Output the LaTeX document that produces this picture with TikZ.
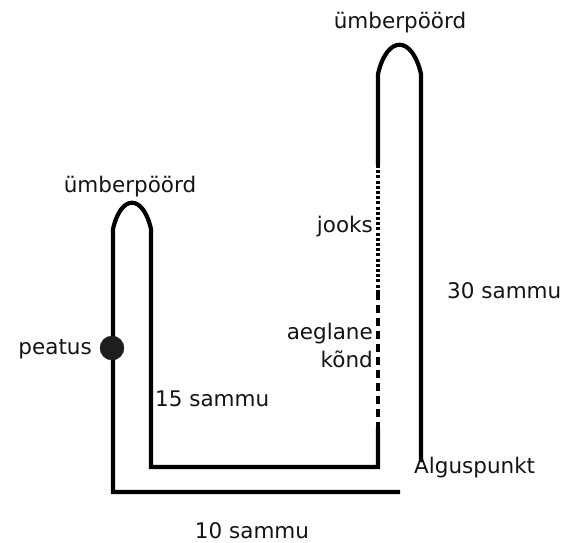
\documentclass[tikz,border=0pt]{standalone}
\usepackage{fontspec}
\setmainfont{DejaVu Sans}
\usepackage{tikz}
\usetikzlibrary{calc}
\usetikzlibrary{positioning}
\definecolor{inkblack}{RGB}{0, 0, 0}
\definecolor{dotgray}{RGB}{30, 30, 30}
\definecolor{textgray}{RGB}{20, 20, 20}
\tikzset{
    track/.style={draw=inkblack, line width=4.2pt, line cap=butt, line join=miter},
    jogtrack/.style={track, dash pattern=on 3pt off 2.2pt},
    slowtrack/.style={track, dash pattern=on 7.5pt off 5.5pt},
    lbl/.style={text=textgray, inner sep=0pt, font=\fontsize{21.5}{25}\selectfont}
}

\begin{document}
\begin{tikzpicture}[x=1pt, y=-1pt]
            \useasboundingbox (0,0) rectangle (578,542);
            % right loop
            \coordinate (rtop)   at (378, 74);
            \coordinate (rjog)   at (378,165);
            \coordinate (rslow)  at (378,292);
            \coordinate (rwalk)  at (378,428);
            \coordinate (rfoot)  at (378,467);
            \coordinate (rout)   at (421, 74);
            \coordinate (start)  at (421,462);
            % left loop
            \coordinate (lin)    at (151,229);
            \coordinate (lfoot)  at (151,467);
            \coordinate (lout)   at (113,229);
            \coordinate (lbase)  at (113,492);
            \coordinate (bend)   at (400,492);

            \draw[track] (start) -- (rout) .. controls (412,35) and (387,35) .. (rtop) -- (rjog);
            \draw[jogtrack]  (rjog) -- (rslow);
            \draw[slowtrack] (rslow) -- (rwalk);
            \draw[track] (rwalk) -- (rfoot) -- (lfoot) -- (lin)
                 .. controls (143,194) and (121,194) .. (lout) -- (lbase) -- (bend);
            \filldraw[dotgray] (112,348) circle (12pt) coordinate (stop);

            \node[lbl, anchor=base]      (turnr)  at (400, 28) {ümberpöörd};
            \node[lbl, anchor=base]      (turnl)  at (130,192) {ümberpöörd};
            \node[lbl, anchor=base east] (jog)    at (373,232) {jooks};
            \node[lbl, anchor=base east] (slow)   at (373,339) {aeglane};
            \node[lbl, anchor=base east] (walk)   at (373,367) {kõnd};
            \node[lbl, anchor=base east] (pause)  at ( 92,354) {peatus};
            \node[lbl, anchor=base west] (fifteen) at (155,406) {15 sammu};
            \node[lbl, anchor=base west] (thirty) at (447,298) {30 sammu};
            \node[lbl, anchor=base west] (origin) at (414,473) {Alguspunkt};
            \node[lbl, anchor=base]      (ten)    at (252,538) {10 sammu};
        \end{tikzpicture}
\end{document}
